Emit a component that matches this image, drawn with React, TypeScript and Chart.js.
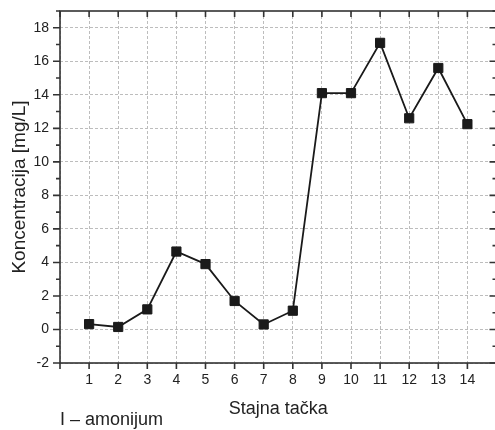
import React, { useEffect, useRef } from "react";
import { Chart, registerables } from "chart.js";

Chart.register(...registerables);

const stations: number[] = [1, 2, 3, 4, 5, 6, 7, 8, 9, 10, 11, 12, 13, 14];
const ammonium: number[] = [0.32, 0.15, 1.2, 4.65, 3.9, 1.7, 0.3, 1.12, 14.1, 14.1, 17.1, 12.6, 15.6, 12.25];
const yMin = -2;
const yMax = 19;
const xMin = 0;
const xMax = 15;
const xTitle = "Stajna tačka";
const yTitle = "Koncentracija [mg/L]";
const note = "I – amonijum";

const FONT = "'Liberation Sans', Arial, sans-serif";
const INK = "#222222";
const GRID = "#bdbdbd";

const framePlugin = {
  id: "frameTicks",
  beforeDatasetsDraw(chart: any) {
    const { ctx, chartArea, scales } = chart;
    const { left, right, top, bottom } = chartArea;
    const xs = scales.x;
    const ys = scales.y;
    ctx.save();
    ctx.strokeStyle = "#333333";
    ctx.lineWidth = 1.6;
    ctx.setLineDash([]);
    ctx.strokeRect(left, top, right - left, bottom - top);
    ctx.beginPath();
    for (let v = yMin; v <= yMax; v++) {
      const y = ys.getPixelForValue(v);
      const major = v % 2 === 0;
      const len = major ? 7 : 4;
      ctx.moveTo(left - len, y);
      ctx.lineTo(left, y);
      ctx.moveTo(right, y);
      ctx.lineTo(right - len, y);
    }
    for (let v = xMin; v <= xMax; v++) {
      const x = xs.getPixelForValue(v);
      ctx.moveTo(x, bottom);
      ctx.lineTo(x, bottom + 6);
      ctx.moveTo(x, top);
      ctx.lineTo(x, top + 6);
    }
    ctx.stroke();
    ctx.restore();
  },
};

export default function App() {
  const ref = useRef<HTMLCanvasElement | null>(null);

  useEffect(() => {
    if (!ref.current) return;
    const chart = new Chart(ref.current, {
      type: "line",
      data: {
        datasets: [
          {
            data: stations.map((s, i) => ({ x: s, y: ammonium[i] })),
            borderColor: "#1a1a1a",
            backgroundColor: "#1a1a1a",
            borderWidth: 1.8,
            pointStyle: "rect",
            pointRadius: 6.5,
            pointBorderWidth: 1,
            pointBorderColor: "#1a1a1a",
            pointBackgroundColor: "#1a1a1a",
            tension: 0,
            fill: false,
          },
        ],
      },
      options: {
        responsive: false,
        animation: false,
        events: [],
        layout: { padding: { top: 11, right: 0, bottom: 0, left: 0 } },
        plugins: { legend: { display: false }, tooltip: { enabled: false } },
        scales: {
          x: {
            type: "linear",
            min: xMin,
            max: xMax,
            afterFit: (s: any) => {
              s.height = 67;
              s.paddingLeft = 0;
              s.paddingRight = 0;
            },
            border: { display: false, dash: [3, 2] },
            grid: {
              color: GRID,
              lineWidth: 1,
              drawTicks: false,
            },
            ticks: {
              stepSize: 1,
              padding: 9,
              color: INK,
              font: { family: FONT, size: 14 },
              maxRotation: 0,
              autoSkip: false,
              callback: (v: any) => (v >= 1 && v <= 14 ? String(v) : ""),
            },
            title: {
              display: true,
              text: xTitle,
              color: INK,
              font: { family: FONT, size: 18 },
              padding: { top: 0, bottom: 10 },
            },
          },
          y: {
            type: "linear",
            min: yMin,
            max: yMax,
            afterFit: (s: any) => {
              s.width = 60;
              s.paddingTop = 0;
              s.paddingBottom = 0;
            },
            border: { display: false, dash: [3, 2] },
            grid: {
              color: (c: any) => (c.tick && Math.round(c.tick.value) % 2 === 0 ? GRID : "rgba(0,0,0,0)"),
              lineWidth: 1,
              drawTicks: false,
            },
            ticks: {
              stepSize: 1,
              padding: 11,
              color: INK,
              font: { family: FONT, size: 14 },
              autoSkip: false,
              callback: (v: any) => (Math.round(v) % 2 === 0 ? String(v) : ""),
            },
            title: {
              display: true,
              text: yTitle,
              color: INK,
              font: { family: FONT, size: 19 },
              padding: { top: 8, bottom: 0 },
            },
          },
        },
      },
      plugins: [framePlugin],
    });
    return () => chart.destroy();
  }, []);

  return (
    <div style={{ position: "fixed", left: 0, top: 0, width: 495, height: 430, overflow: "hidden", background: "#ffffff" }}>
      <canvas ref={ref} width={504} height={430} style={{ display: "block" }} />
      <div
        style={{
          position: "absolute",
          left: 60,
          top: 410,
          fontFamily: FONT,
          fontSize: 18,
          lineHeight: "18px",
          color: INK,
          whiteSpace: "nowrap",
        }}
      >
        {note}
      </div>
    </div>
  );
}
